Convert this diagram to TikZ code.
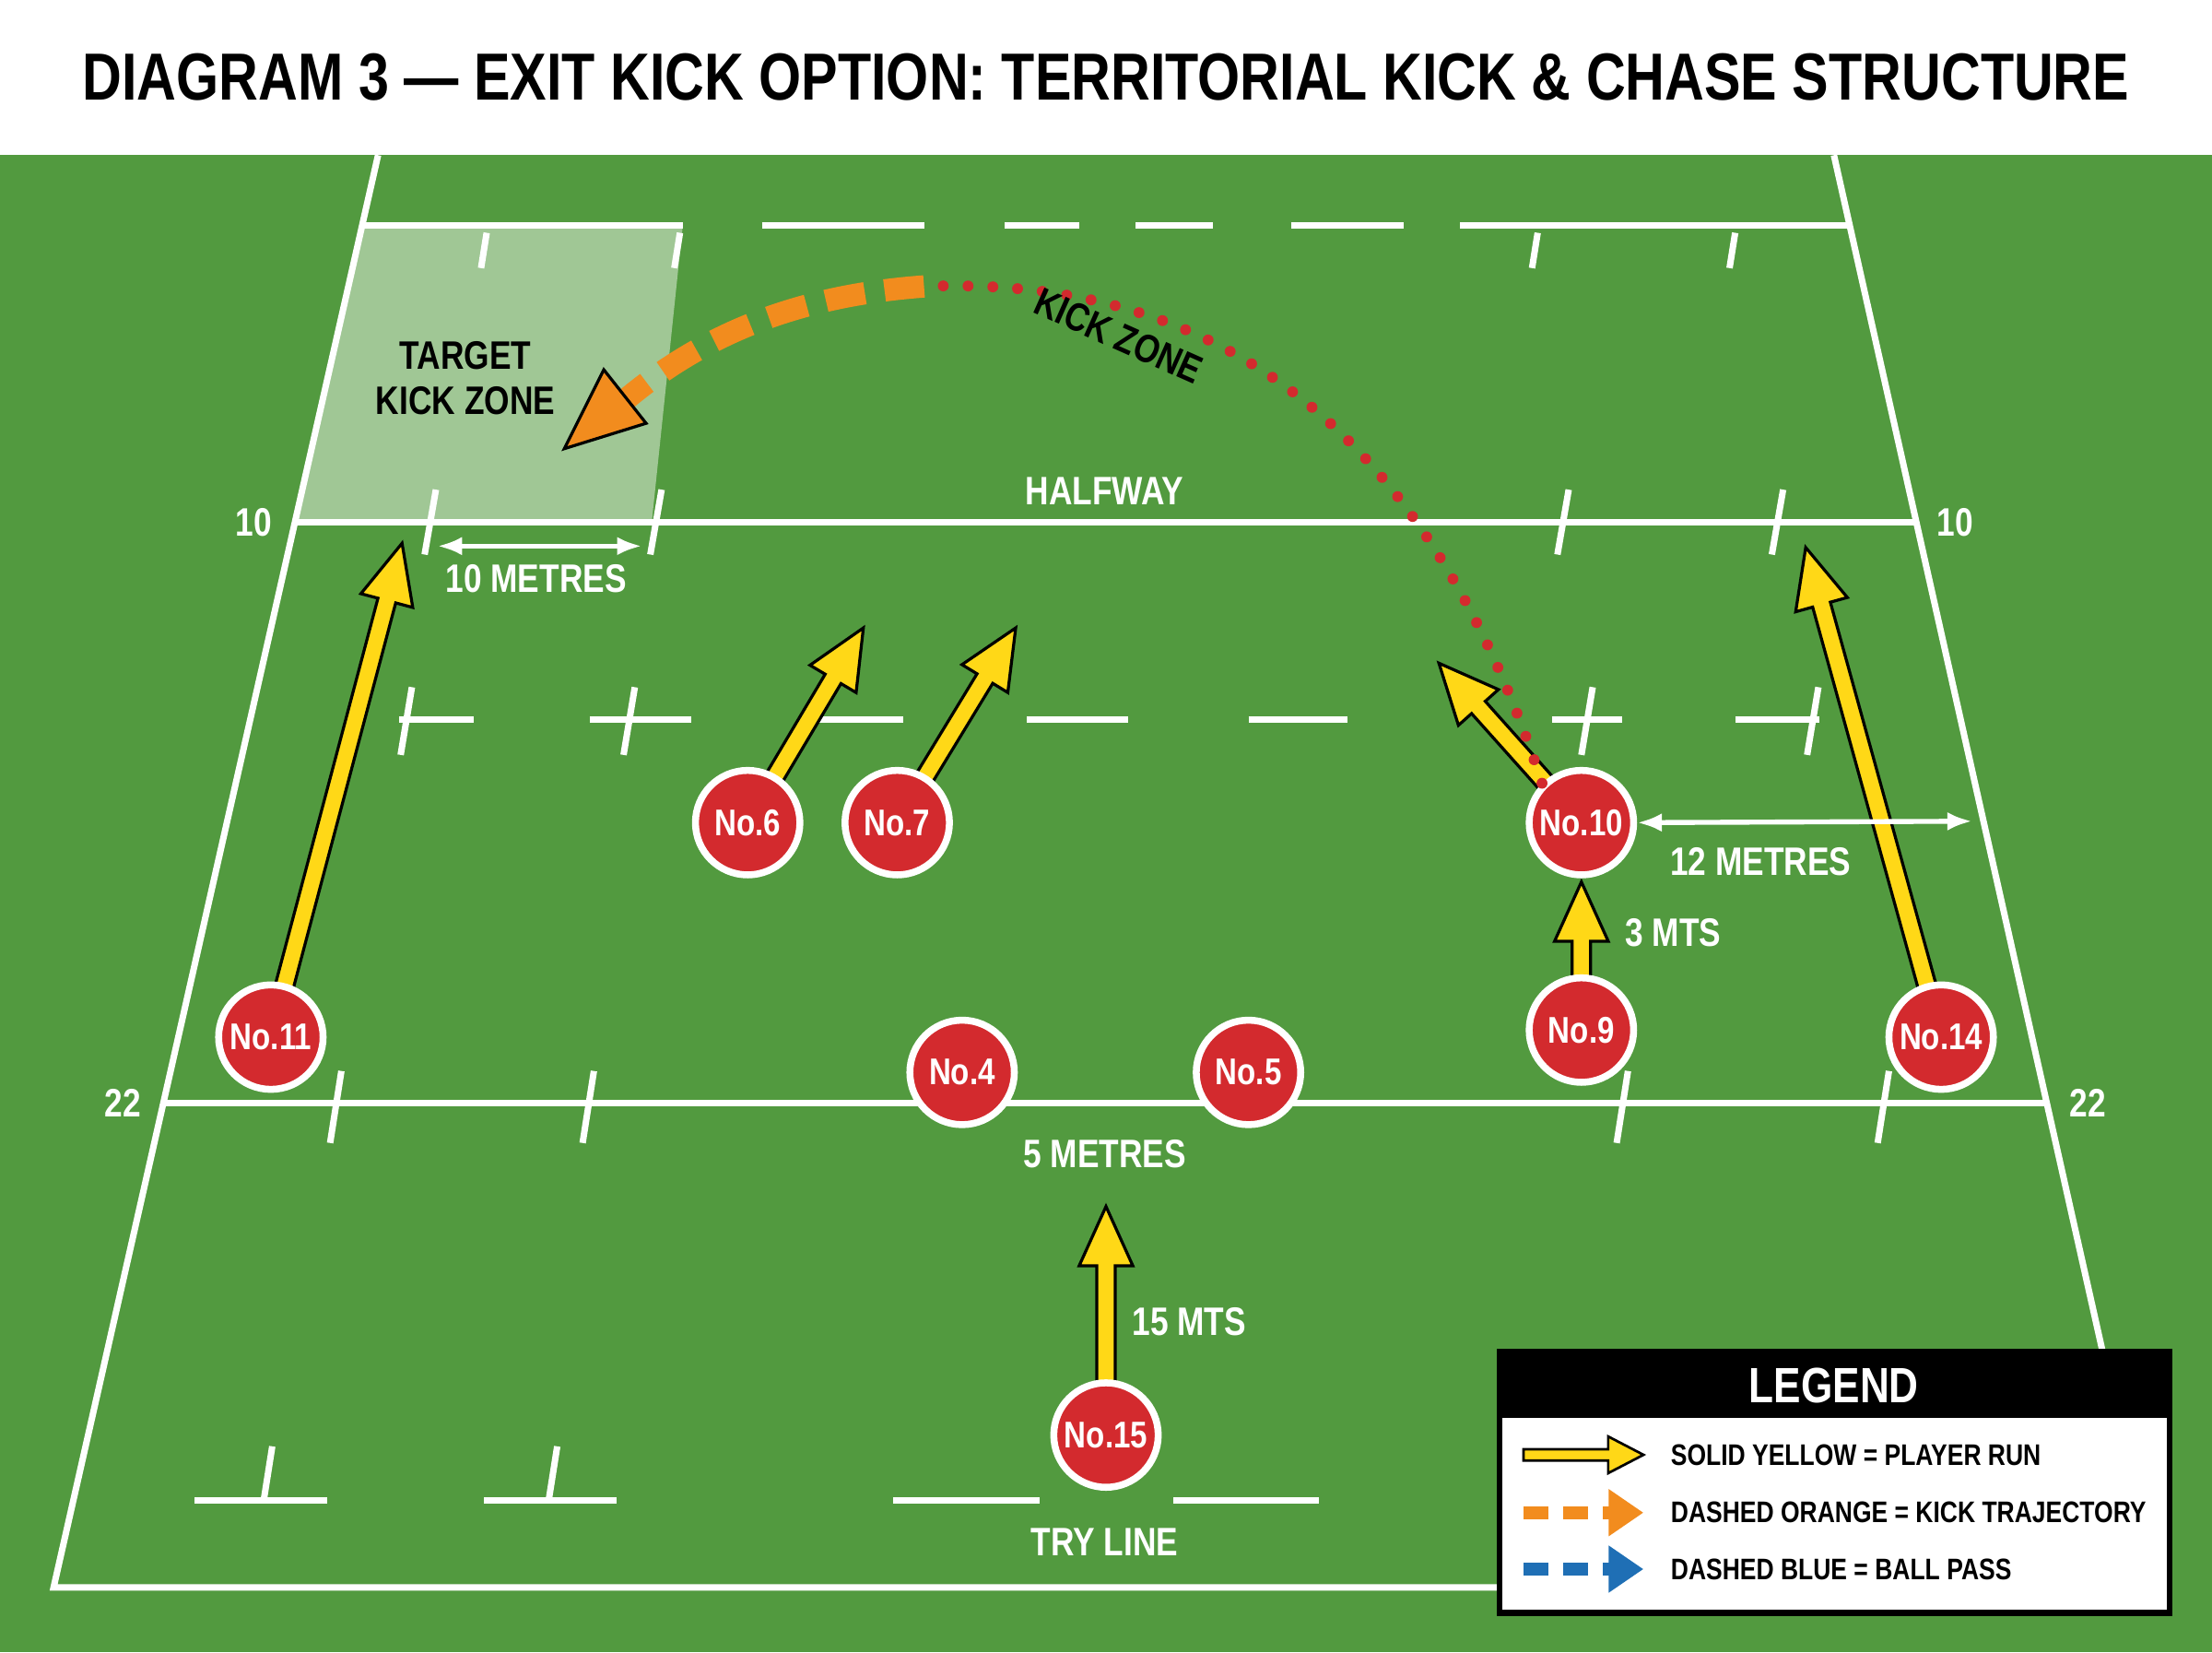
\documentclass[tikz,border=0pt]{standalone}
\usepackage{fontspec}
\setmainfont{Liberation Sans}[FakeStretch=0.82]
\usetikzlibrary{calc,arrows.meta}
\definecolor{pitch}{HTML}{529A3F}
\definecolor{pred}{HTML}{D32A2E}
\definecolor{pyel}{HTML}{FFD817}
\definecolor{porg}{HTML}{F28C1E}
\definecolor{pblue}{HTML}{1F6FB5}
\newcommand\yarr[2]{%
 \coordinate (hh) at ($(#2)!0.42cm!(#1)$);
 \filldraw[fill=pyel,draw=black,line width=0.6pt,line join=miter]
 ($(#1)!0.065cm!90:(#2)$) -- ($(hh)!0.065cm!90:(#2)$) -- ($(hh)!0.19cm!90:(#2)$) -- (#2)
 -- ($(hh)!0.19cm!-90:(#2)$) -- ($(hh)!0.065cm!-90:(#2)$) -- ($(#1)!0.065cm!-90:(#2)$) -- cycle;}
\tikzset{
 fl/.style={white,line width=1.3pt},
 player/.style={circle,fill=pred,draw=white,line width=1.4pt,minimum size=0.74cm,inner sep=0pt,text=white,font=\bfseries\fontsize{7.5}{9}\selectfont},
 wlab/.style={text=white,font=\bfseries\fontsize{8}{9}\selectfont},
 blab/.style={text=black,font=\bfseries\fontsize{8}{9}\selectfont},
 leg/.style={text=black,font=\bfseries\fontsize{6}{7}\selectfont,anchor=west},
 meas/.style={white,line width=1pt,{Latex[length=5pt]}-{Latex[length=5pt]}}
}
\begin{document}
\begin{tikzpicture}[x=0.01cm,y=-0.01cm]
\useasboundingbox (0,0) rectangle (1568,1171);
\fill[white] (0,0) rectangle (1568,110);
\fill[pitch] (0,110) rectangle (1568,1171);
\node (title) at (784,55) {\resizebox{14.5cm}{!}{\bfseries DIAGRAM 3 — EXIT KICK OPTION: TERRITORIAL KICK \& CHASE STRUCTURE}};
% target zone
\fill[white,opacity=0.45] (258,160) -- (484,160) -- (462,370) -- (210,370) -- cycle;
% outline
\draw[fl] (268,110) -- (38,1125) -- (1070,1125);
\draw[fl] (1300,110) -- (1528,1125);
\draw[fl] (210,370) -- (1360,370);
\draw[fl] (115,782) -- (1451,782);
\foreach \a/\b in {258/484,540/655,712/765,805/860,915/995,1035/1310} \draw[fl] (\a,160) -- (\b,160);
\foreach \a/\b in {283/336,418/490,580/640,728/800,885/955,1100/1150,1230/1290} \draw[fl] (\a,510) -- (\b,510);
\foreach \a/\b in {138/232,343/437,633/737,832/935} \draw[fl] (\a,1063) -- (\b,1063);
\foreach \x in {343,480,1088,1228} \draw[fl] (\x+2,165) -- (\x-2,190);
\foreach \x in {305,465,1108,1260} \draw[fl] (\x+4,347) -- (\x-4,393);
\foreach \x in {288,446,1125,1285} \draw[fl] (\x+4,487) -- (\x-4,535);
\foreach \x in {238,417,1150,1335} \draw[fl] (\x+4,759) -- (\x-4,810);
\foreach \x in {190,392} \draw[fl] (\x+3,1025) -- (\x-3,1063);
% labels
\node[wlab] (l10a) at (180,370) {10};
\node[wlab] (l10b) at (1386,370) {10};
\node[wlab] (l22a) at (87,782) {22};
\node[wlab] (l22b) at (1480,782) {22};
\node[wlab] (hw) at (783,348) {HALFWAY};
\node[wlab] (tl) at (783,1093) {TRY LINE};
\node[blab,align=center] (tkz) at (330,268) {TARGET\\KICK ZONE};
% player positions
\coordinate (p6) at (530,583); \coordinate (p7) at (636,583);
\coordinate (p10) at (1121,583); \coordinate (p11) at (192,735);
\coordinate (p9) at (1121,730); \coordinate (p14) at (1376,735);
\coordinate (p15) at (784,1017);
% run arrows
\coordinate (e11) at (285,385); \coordinate (e6) at (612,445);
\coordinate (e7) at (720,445); \coordinate (e10) at (1020,470);
\coordinate (e14) at (1280,388); \coordinate (e9) at (1121,625);
\coordinate (e15) at (784,855);
\yarr{p11}{e11} \yarr{p6}{e6} \yarr{p7}{e7} \yarr{p10}{e10}
\yarr{p14}{e14} \yarr{p9}{e9} \yarr{p15}{e15}
% players
\node[player] (n6) at (p6) {No.6};
\node[player] (n7) at (p7) {No.7};
\node[player] (n10) at (p10) {No.10};
\node[player] (n11) at (p11) {No.11};
\node[player] (n4) at (682,760) {No.4};
\node[player] (n5) at (885,760) {No.5};
\node[player] (n9) at (p9) {No.9};
\node[player] (n14) at (p14) {No.14};
\node[player] (n15) at (p15) {No.15};
% kick
\coordinate (apex) at (655,203);
\draw[pred,line width=2.2pt,dash pattern=on 0pt off 5pt,line cap=round] (n10.north west) .. controls (1010,300) and (860,195) .. (apex);
\draw[porg,line width=4.5pt,dash pattern=on 8pt off 4pt] (apex) .. controls (560,210) and (490,240) .. (430,295);
\fill[porg,draw=black,line width=0.6pt] (400,318) -- (428,262) -- (458,300) -- cycle;
\node[blab,rotate=-24] (kz) at (793,238) {KICK ZONE};
% measures
\coordinate (m1a) at (310,387); \coordinate (m1b) at (455,387);
\draw[meas] (m1a) -- (m1b);
\node[wlab] (m1) at (380,410) {10 METRES};
\coordinate (m2b) at (1398,582);
\draw[meas] (n10.east) -- (m2b);
\node[wlab] (m2) at (1248,611) {12 METRES};
\node[wlab] (m3) at (1186,661) {3 MTS};
\node[wlab] (m4) at (783,818) {5 METRES};
\node[wlab] (m5) at (843,937) {15 MTS};
% legend
\filldraw[fill=white,draw=black,line width=1.2pt] (1063,958) rectangle (1538,1143);
\fill[black] (1063,958) rectangle (1538,1005);
\node[text=white,font=\bfseries\fontsize{10}{12}\selectfont] (lt) at (1300,982) {LEGEND};
\filldraw[fill=pyel,draw=black,line width=0.5pt] (1080,1027) -- (1140,1027) -- (1140,1018) -- (1165,1031) -- (1140,1044) -- (1140,1035) -- (1080,1035) -- cycle;
\coordinate (la2) at (1080,1072); \coordinate (lb2) at (1165,1072);
\draw[porg,line width=2.5pt,dash pattern=on 5pt off 3pt,-{Triangle[length=7pt,width=9pt]}] (la2) -- (lb2);
\coordinate (la3) at (1080,1112); \coordinate (lb3) at (1165,1112);
\draw[pblue,line width=2.5pt,dash pattern=on 5pt off 3pt,-{Triangle[length=7pt,width=9pt]}] (la3) -- (lb3);
\node[leg] (t1) at (1172,1031) {SOLID YELLOW = PLAYER RUN};
\node[leg] (t2) at (1172,1072) {DASHED ORANGE = KICK TRAJECTORY};
\node[leg] (t3) at (1172,1112) {DASHED BLUE = BALL PASS};
\end{tikzpicture}
\end{document}
